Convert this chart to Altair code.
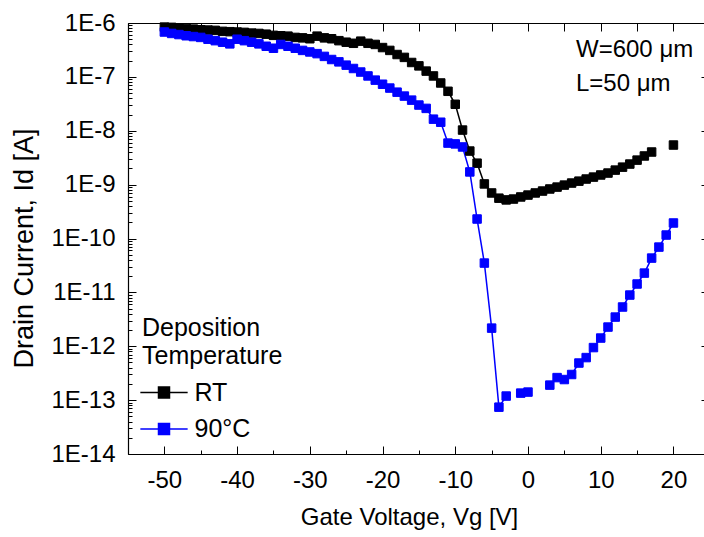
import altair as alt
import pandas as pd

FONT = "Liberation Sans"

# ---- data ----
vg_rt = list(range(-50, 18)) + [20]
id_rt = [
    8.4e-7, 8.3e-7, 8.0e-7, 7.9e-7, 7.7e-7, 7.5e-7, 7.4e-7, 7.3e-7, 7.0e-7, 6.9e-7,   # -50..-41
    6.8e-7, 6.7e-7, 6.5e-7, 6.4e-7, 6.2e-7, 5.9e-7, 5.8e-7, 5.7e-7, 5.4e-7, 5.3e-7,   # -40..-31
    5.1e-7, 5.7e-7, 5.3e-7, 5.1e-7, 4.7e-7, 4.4e-7, 4.2e-7, 4.6e-7, 4.2e-7, 4.0e-7,   # -30..-21
    3.5e-7, 3.1e-7, 2.6e-7, 2.3e-7, 1.85e-7, 1.6e-7, 1.28e-7, 1.04e-7, 7.7e-8, 5.4e-8,  # -20..-11
    3.1e-8, 1.03e-8, 4.2e-9, 2.5e-9, 1.03e-9, 7.0e-10, 5.6e-10, 5.2e-10, 5.4e-10, 5.9e-10,  # -10..-1
    6.4e-10, 7.0e-10, 7.6e-10, 8.3e-10, 9.0e-10, 9.8e-10, 1.07e-9, 1.16e-9, 1.27e-9, 1.38e-9,  # 0..9
    1.51e-9, 1.64e-9, 1.86e-9, 2.11e-9, 2.41e-9, 2.85e-9, 3.40e-9, 4.03e-9,  # 10..17
    5.43e-9,  # 20
]

vg_90 = list(range(-50, -2)) + [-1, 0] + list(range(3, 21))
id_90 = [
    6.8e-7, 6.4e-7, 6.1e-7, 5.8e-7, 5.6e-7, 5.4e-7, 5.0e-7, 4.7e-7, 4.4e-7, 4.1e-7,  # -50..-41
    5.0e-7, 4.7e-7, 4.4e-7, 4.1e-7, 3.7e-7, 3.4e-7, 4.0e-7, 3.7e-7, 3.4e-7, 3.1e-7,  # -40..-31
    2.9e-7, 2.7e-7, 2.4e-7, 2.1e-7, 1.9e-7, 1.65e-7, 1.43e-7, 1.23e-7, 1.04e-7, 8.7e-8,  # -30..-21
    7.3e-8, 6.2e-8, 5.2e-8, 4.4e-8, 3.7e-8, 3.0e-8, 2.6e-8, 1.64e-8, 1.44e-8, 5.9e-9,  # -20..-11
    5.7e-9, 5.0e-9, 1.72e-9, 2.30e-10, 3.50e-11, 2.17e-12, 7.4e-14, 1.19e-13,  # -10..-3
    1.35e-13, 1.41e-13,  # -1, 0
    1.90e-13, 2.62e-13, 2.41e-13, 2.99e-13, 4.88e-13, 6.16e-13, 9.45e-13, 1.42e-12, 2.27e-12,  # 3..11
    3.48e-12, 5.35e-12, 8.92e-12, 1.43e-11, 2.28e-11, 4.33e-11, 6.93e-11, 1.16e-10, 1.94e-10,  # 12..20
]

series_names = ["RT", "90°C"]
series_colors = ["#000000", "#0000ff"]
x_major = [-50, -40, -30, -20, -10, 0, 10, 20]
x_minor = [-55, -45, -35, -25, -15, -5, 5, 15]
x_top = list(range(-55, 21, 5))
y_major = [1e-14, 1e-13, 1e-12, 1e-11, 1e-10, 1e-9, 1e-8, 1e-7, 1e-6]
y_minor = [k * 10.0 ** e for e in range(-14, -6) for k in range(2, 10)]
legend_title = ["Deposition", "Temperature"]
note_lines = ["W=600 μm", "L=50 μm"]
x_title = "Gate Voltage, Vg [V]"
y_title = "Drain Current, Id [A]"


def segments(vs):
    seg, out = 0, []
    for i, v in enumerate(vs):
        if i and v - vs[i - 1] > 1:
            seg += 1
        out.append(seg)
    return out


rows = []
for name, vs, ids in [("RT", vg_rt, id_rt), ("90°C", vg_90, id_90)]:
    for v, i, s in zip(vs, ids, segments(vs)):
        rows.append({"vg": v, "id": i, "series": name, "seg": f"{name}-{s}"})
df = pd.DataFrame(rows)

xs = alt.Scale(domain=[-55, 24.2], nice=False, zero=False)
ys = alt.Scale(type="log", domain=[1e-14, 1e-6], nice=False)
cs = alt.Scale(domain=series_names, range=series_colors)

base_axis = dict(
    grid=False, domain=False, tickColor="black", labelColor="black",
    titleColor="black", labelFont=FONT, titleFont=FONT,
    titleFontWeight="normal", labelFontSize=24,
    labelFlush=False, labelOverlap=False, tickWidth=1,
    domainColor="black", domainWidth=1.2,
)


def tick_axis(orient, values, size):
    return alt.Axis(orient=orient, values=values, labels=False, title=None,
                    tickSize=size, offset=-size, **base_axis)


def line_axis(orient):
    d = dict(base_axis)
    d["domain"] = True
    return alt.Axis(orient=orient, ticks=False, labels=False, title=None, **d)


lines = alt.Chart(df).mark_line(strokeWidth=1.5).encode(
    x=alt.X("vg:Q", scale=xs, axis=alt.Axis(
        orient="bottom", values=x_major, labelExpr="'' + datum.value",
        title=x_title, titleFontSize=24, tickSize=8, offset=-8,
        labelPadding=14, titlePadding=13, titleX=281, **base_axis)),
    y=alt.Y("id:Q", scale=ys, axis=alt.Axis(
        orient="left", values=y_major,
        labelExpr="'1E' + round(log(datum.value) / LN10)",
        title=y_title, titleFontSize=27, tickSize=8, offset=-8,
        labelPadding=13, titlePadding=12, titleY=225, **base_axis)),
    color=alt.Color("series:N", scale=cs, legend=None),
    detail="seg:N",
)

legend = alt.Legend(
    orient="none", legendX=14, legendY=293, title=legend_title,
    titleFont=FONT, titleFontSize=25, titleFontWeight="normal",
    titleColor="black", titleLineHeight=28, titlePadding=11,
    labelFont=FONT, labelFontSize=25, labelColor="black",
    symbolType="M-4.3,0H4.3M-1,-1H1V1H-1Z", symbolSize=121,
    symbolOffset=9.5, labelOffset=18, padding=0, rowPadding=10.5,
    symbolStrokeWidth=1.5, symbolOpacity=1,
)

points = alt.Chart(df).mark_square(size=72, opacity=1, strokeWidth=1).encode(
    x=alt.X("vg:Q", scale=xs, axis=None),
    y=alt.Y("id:Q", scale=ys, axis=None),
    color=alt.Color("series:N", scale=cs, sort=series_names, legend=legend),
    stroke=alt.Stroke("series:N", scale=cs, sort=series_names, legend=legend),
)

minor = alt.Chart(df).mark_point(opacity=0).encode(
    x=alt.X("vg:Q", scale=xs, axis=tick_axis("bottom", x_minor, 4)),
    y=alt.Y("id:Q", scale=ys, axis=tick_axis("left", y_minor, 4)),
)

outer_ticks = alt.Chart(df).mark_point(opacity=0).encode(
    x=alt.X("vg:Q", scale=xs, axis=tick_axis("top", x_top, 8)),
    y=alt.Y("id:Q", scale=ys, axis=tick_axis("right", y_major, 3)),
)

frame_a = alt.Chart(df).mark_point(opacity=0).encode(
    x=alt.X("vg:Q", scale=xs, axis=line_axis("bottom")),
    y=alt.Y("id:Q", scale=ys, axis=line_axis("left")),
)

frame_b = alt.Chart(df).mark_point(opacity=0).encode(
    x=alt.X("vg:Q", scale=xs, axis=line_axis("top")),
    y=alt.Y("id:Q", scale=ys, axis=None),
)

notes = alt.Chart(pd.DataFrame({"note": ["\n".join(note_lines)]})).mark_text(
    align="left", baseline="middle", font=FONT, fontSize=24, color="black",
    lineBreak="\n", lineHeight=34,
).encode(text="note:N", x=alt.value(448), y=alt.value(27))

chart = alt.layer(
    lines, points, minor, outer_ticks, frame_a, frame_b, notes
).resolve_axis(
    x="independent", y="independent"
).resolve_legend(
    color="independent", stroke="independent"
).properties(
    width=576, height=431,
    padding={"left": 128, "top": 23, "right": 0, "bottom": 83},
    autosize=alt.AutoSizeParams(type="none"),
).configure_view(stroke=None).configure(font=FONT)

chart.save("out.html", embed_options={"renderer": "svg", "actions": False})
